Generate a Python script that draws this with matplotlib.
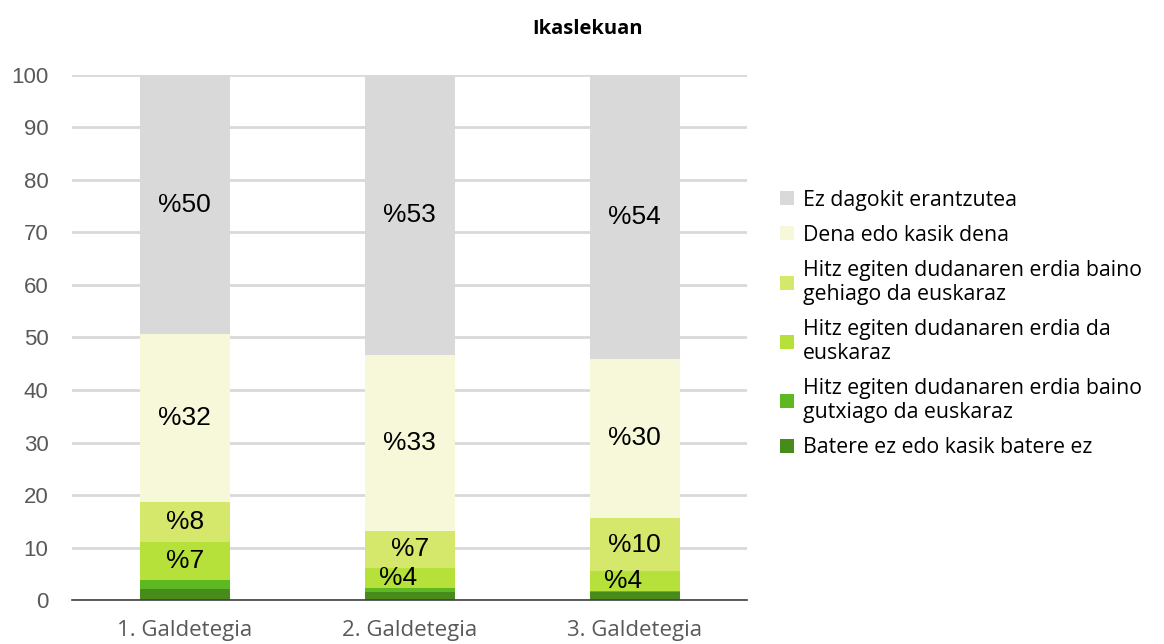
import numpy as np
import matplotlib.pyplot as plt

# datuak
categories = ["1. Galdetegia", "2. Galdetegia", "3. Galdetegia"]
series_names = ["Batere ez edo kasik batere ez",
                "Hitz egiten dudanaren erdia baino\ngutxiago da euskaraz",
                "Hitz egiten dudanaren erdia da\neuskaraz",
                "Hitz egiten dudanaren erdia baino\ngehiago da euskaraz",
                "Dena edo kasik dena",
                "Ez dagokit erantzutea"]
batere = [2.2, 1.6, 1.6]
gutxiago = [1.7, 0.8, 0.1]
erdia = [7.1, 3.8, 3.8]
gehiago = [7.7, 7.0, 10.2]
dena = [31.9, 33.5, 30.2]
ez_dagokit = [49.4, 53.3, 54.1]
labels = [["", "", "%7", "%8", "%32", "%50"],
          ["", "", "%4", "%7", "%33", "%53"],
          ["", "", "%4", "%10", "%30", "%54"]]
colors = ["#478b1a", "#5eb821", "#b6e13a", "#d5e86c", "#f7f8d9", "#d9d9d9"]

series = [batere, gutxiago, erdia, gehiago, dena, ez_dagokit]

fig = plt.figure(figsize=(11.64, 6.44), dpi=100)
ax = fig.add_axes([0.062, 0.068, 0.58, 0.816])

x = np.arange(len(categories))
bottom = np.zeros(len(categories))
handles = []
for vals, name, col in zip(series, series_names, colors):
    b = ax.bar(x, vals, 0.4, bottom=bottom, color=col, label=name, zorder=2)
    handles.append(b)
    bottom += np.array(vals)

# etiketak
bottom = np.zeros(len(categories))
for k, vals in enumerate(series):
    for i in range(len(categories)):
        txt = labels[i][k]
        if txt:
            dx = -0.05 if vals[i] < 5 else 0
            ax.text(x[i] + dx, bottom[i] + vals[i] / 2, txt, ha="center", va="center",
                    fontsize=19, family="Liberation Sans", color="#000000", zorder=3)
    bottom += np.array(vals)

ax.set_xlim(-0.5, 2.5)
ax.set_ylim(0, 100)
ax.set_yticks(range(0, 101, 10))
ax.yaxis.grid(True, color="#d9d9d9", linewidth=2, zorder=0)
ax.set_axisbelow(True)
ax.tick_params(axis="y", length=0, labelsize=16, colors="#595959", pad=17)
ax.tick_params(axis="x", length=0, labelsize=16, colors="#595959", pad=14)
for lab in ax.get_yticklabels():
    lab.set_family("Liberation Sans")
ax.set_xticks(x)
ax.set_xticklabels(categories, family="Open Sans")
for s in ["top", "right", "left"]:
    ax.spines[s].set_visible(False)
ax.spines["bottom"].set_color("#404040")
ax.spines["bottom"].set_linewidth(1.2)

fig.text(0.505, 0.955, "Ikaslekuan", ha="center", va="center",
         fontsize=14.5, fontweight="bold", family="Open Sans")

leg = fig.legend(handles[::-1], series_names[::-1], loc="center left",
                 bbox_to_anchor=(0.661, 0.497), frameon=False, borderpad=0,
                 prop={"family": "Open Sans", "size": 15.3},
                 handlelength=0.65, handleheight=0.65, handletextpad=0.42,
                 labelspacing=0.66)

plt.savefig("out.png", dpi=100)
